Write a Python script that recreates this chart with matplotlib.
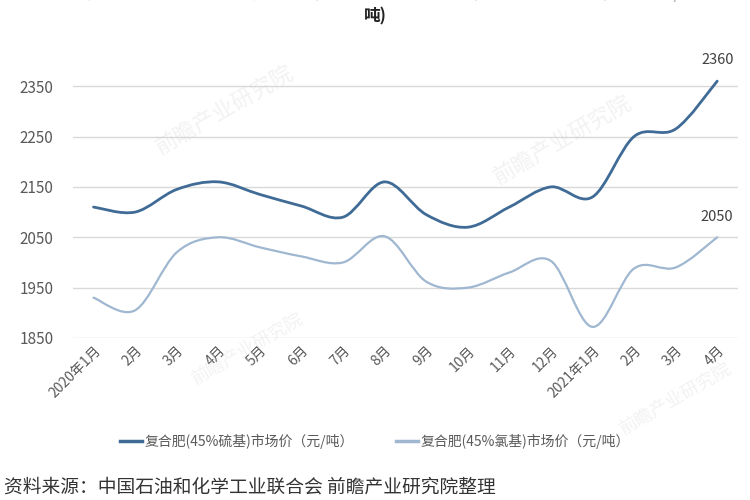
import matplotlib as mpl
mpl.use("Agg")
import matplotlib.pyplot as plt
from matplotlib.path import Path
from matplotlib.patches import PathPatch
import numpy as np

plt.rcParams['font.family'] = ['Noto Sans CJK SC', 'DejaVu Sans']

months = ['2020年1月', '2月', '3月', '4月', '5月', '6月', '7月', '8月', '9月', '10月',
          '11月', '12月', '2021年1月', '2月', '3月', '4月']
sulfur = [2110, 2100, 2145, 2160, 2135, 2112, 2090, 2160, 2095, 2070,
          2110, 2150, 2130, 2250, 2265, 2360]
chlorine = [1930, 1905, 2020, 2050, 2030, 2012, 2000, 2052, 1962, 1950,
            1980, 2003, 1872, 1988, 1990, 2050]
names = ['复合肥(45%硫基)市场价（元/吨）', '复合肥(45%氯基)市场价（元/吨）']
colors = ['#3f6b96', '#9fb7d0']
yticks = [1850, 1950, 2050, 2150, 2250, 2350]


def smooth_path(y):
    # Catmull-Rom style bezier through the points, like a spreadsheet smoothed line
    x = np.arange(len(y), dtype=float)
    y = np.asarray(y, dtype=float)
    verts = [(x[0], y[0])]
    codes = [Path.MOVETO]
    n = len(y)
    for i in range(n - 1):
        i0 = max(i - 1, 0)
        i3 = min(i + 2, n - 1)
        c1 = (x[i] + (x[i + 1] - x[i0]) / 6, y[i] + (y[i + 1] - y[i0]) / 6)
        c2 = (x[i + 1] - (x[i3] - x[i]) / 6, y[i + 1] - (y[i3] - y[i]) / 6)
        verts += [c1, c2, (x[i + 1], y[i + 1])]
        codes += [Path.CURVE4] * 3
    return Path(verts, codes)


fig = plt.figure(figsize=(7.5, 5), dpi=100)
ax = fig.add_axes([0.097, 0.324, 0.887, 0.554])

for series, c, lw in [(sulfur, colors[0], 2.0), (chlorine, colors[1], 1.6)]:
    ax.add_patch(PathPatch(smooth_path(series), facecolor='none', edgecolor=c,
                           lw=lw, capstyle='round', zorder=3))

ax.set_xlim(-0.5, len(months) - 0.5)
ax.set_ylim(1850, 2400)
ax.set_yticks(yticks)
ax.set_xticks(range(len(months)))
ax.set_xticklabels(months, rotation=45, ha='right', rotation_mode='anchor',
                   fontsize=10, color='#595959')
ax.tick_params(axis='y', labelsize=11, labelcolor='#595959', length=0, pad=14)
ax.tick_params(axis='x', length=0, pad=4)
ax.grid(axis='y', color='#d9d9d9', lw=1)
ax.set_axisbelow(True)
for s in ax.spines.values():
    s.set_visible(False)

ax.annotate(str(sulfur[-1]), (len(sulfur) - 1, sulfur[-1]), xytext=(0, 12),
            textcoords='offset points', ha='center', fontsize=10.5, color='#404040')
ax.annotate(str(chlorine[-1]), (len(chlorine) - 1, chlorine[-1]), xytext=(0, 12),
            textcoords='offset points', ha='center', fontsize=10.5, color='#404040')

# legend
handles = [plt.Line2D([], [], color=colors[0], lw=2.5),
           plt.Line2D([], [], color=colors[1], lw=2.5)]
fig.legend(handles, names, loc='center', bbox_to_anchor=(0.5, 0.118), ncol=2,
           frameon=False, fontsize=10, handlelength=1.6, handletextpad=0.2,
           columnspacing=3.0, labelcolor='#595959')

# cut-off title
fig.text(0.5, 1.012, '图表：2020-2021年中国复合肥（45%硫基、45%氯基）市场价格走势（单位：元/',
         ha='center', va='center', fontsize=12, fontweight='bold', color='#bbbbbb')
fig.text(0.5, 0.967, '吨)', ha='center', va='center', fontsize=12,
         fontweight='bold', color='#222222')

fig.text(0.005, 0.004, '资料来源：中国石油和化学工业联合会 前瞻产业研究院整理',
         ha='left', va='bottom', fontsize=13.5, color='#333333')

# faint watermarks
for (wx, wy, s) in [(0.3, 0.78, 16), (0.75, 0.72, 16), (0.33, 0.3, 13), (0.9, 0.2, 13)]:
    fig.text(wx, wy, '前瞻产业研究院', rotation=30, fontsize=s, color='#cccccc',
             alpha=0.25, ha='center', va='center')

fig.savefig('out.png', dpi=100)
